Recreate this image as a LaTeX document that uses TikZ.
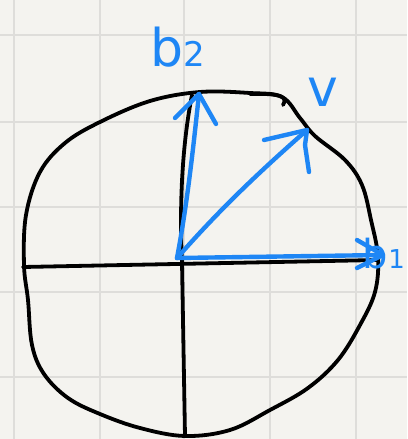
\documentclass[tikz,border=0pt]{standalone}
\usepackage{fontspec}
\setmainfont{DejaVu Sans}
\definecolor{paper}{HTML}{F4F3EF}
\definecolor{gridc}{HTML}{DEDDDA}
\definecolor{pen}{HTML}{1E86F5}
\tikzset{
  gridline/.style={gridc, line width=2.2pt},
  ink/.style={black, line width=3.8pt, line cap=round, line join=round},
  blueink/.style={pen, line width=4.4pt, line cap=round, line join=round},
  lab/.style={pen, inner sep=0pt, font=\fontsize{52}{52}\selectfont},
}
\begin{document}
\begin{tikzpicture}[x=1pt,y=-1pt]
\useasboundingbox (0,0) rectangle (407,439);
\fill[paper] (0,0) rectangle (407,439);
% grid
\foreach \gx in {14,100,184,270,356} \draw[gridline] (\gx,0) -- (\gx,439);
\foreach \gy in {35,122,207,292,377} \draw[gridline] (0,\gy) -- (407,\gy);
% blob
\draw[ink] plot[smooth cycle, tension=0.6] coordinates {
 (24,265) (26,215) (40,172) (65,143) (100,122) (150,101) (200,92) (250,93) (282,97)
 (300,118) (315,136) (345,160) (362,185) (371,220) (378,257) (375,292) (360,325)
 (338,360) (308,388) (270,410) (230,430) (185,436) (140,428) (100,414) (68,398)
 (44,374) (32,345) (28,300)};
\draw[ink] (250,94) .. controls (285,93) and (287,98) .. (283,105);
% axes
\coordinate (L) at (23,267);
\coordinate (R) at (378,260);
\coordinate (B) at (185,436);
\coordinate (C) at (182,262);
\coordinate (T) at (192,95);
\draw[ink] (L) -- (R);
\draw[ink] (B) -- (C) .. controls (179,200) and (183,140) .. (T);
% blue vectors
\coordinate (O) at (177,258);
\coordinate (b2tip) at (199,94);
\coordinate (vtip) at (307,130);
\coordinate (b1tip) at (383,255);
\draw[blueink] (O) .. controls (188,200) and (194,140) .. (b2tip);
\draw[blueink] (175,118) -- (b2tip) -- (216,124);
\draw[blueink] (O) .. controls (215,215) and (250,180) .. (vtip);
\draw[blueink] (264,140) -- (vtip) -- (305,145) -- (309,172);
\draw[blueink] (O) -- (b1tip);
\draw[blueink] (357,240) -- (b1tip) -- (357,268);
% labels
\node[lab, anchor=base west] (lb2) at (150,66) {b\fontsize{34}{34}\selectfont 2};
\node[lab, anchor=base west] (lv) at (307,106) {v};
\node[lab, anchor=base east, font=\fontsize{40}{40}\selectfont] (lb1) at (405,268) {b\fontsize{26}{26}\selectfont 1};
\end{tikzpicture}
\end{document}
